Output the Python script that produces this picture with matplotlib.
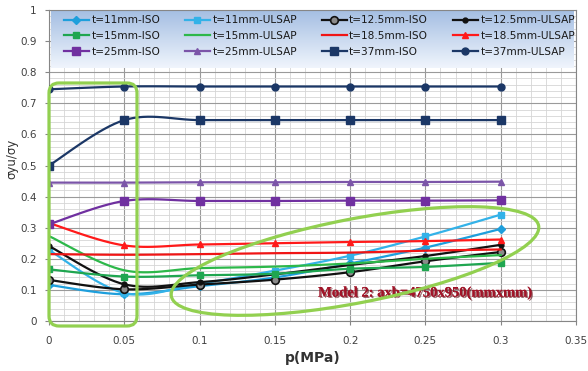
import numpy as np
import matplotlib
matplotlib.use("Agg")
import matplotlib.pyplot as plt
import matplotlib.patheffects as pe
from matplotlib.patches import Ellipse, FancyBboxPatch

# pressure steps (MPa)
p = [0, 0.05, 0.1, 0.15, 0.2, 0.25, 0.3]

# ultimate strength ratio sigma_yu / sigma_y per plate thickness
t11_iso = [0.116, 0.086, 0.112, 0.140, 0.185, 0.236, 0.296]
t11_ulsap = [0.228, 0.090, 0.120, 0.162, 0.210, 0.272, 0.342]
t125_iso = [0.132, 0.102, 0.117, 0.133, 0.157, 0.192, 0.222]
t125_ulsap = [0.241, 0.118, 0.125, 0.150, 0.180, 0.209, 0.245]
t15_iso = [0.166, 0.143, 0.147, 0.152, 0.168, 0.174, 0.187]
t15_ulsap = [0.273, 0.163, 0.170, 0.175, 0.185, 0.200, 0.212]
t185_iso = [0.215, 0.213, 0.215, 0.218, 0.220, 0.226, 0.230]
t185_ulsap = [0.315, 0.243, 0.246, 0.250, 0.254, 0.257, 0.262]
t25_iso = [0.311, 0.386, 0.386, 0.386, 0.387, 0.387, 0.388]
t25_ulsap = [0.445, 0.445, 0.446, 0.446, 0.447, 0.447, 0.448]
t37_iso = [0.500, 0.646, 0.646, 0.646, 0.646, 0.646, 0.646]
t37_ulsap = [0.745, 0.754, 0.754, 0.754, 0.754, 0.754, 0.754]

x_ticks = [0, 0.05, 0.1, 0.15, 0.2, 0.25, 0.3, 0.35]
y_ticks = [0, 0.1, 0.2, 0.3, 0.4, 0.5, 0.6, 0.7, 0.8, 0.9, 1]

series = [
    ("t=11mm-ISO", t11_iso, "#1E9FDC", "D", 4.5),
    ("t=11mm-ULSAP", t11_ulsap, "#33B2E8", "s", 5),
    ("t=12.5mm-ISO", t125_iso, "#111111", "o", 5.5),
    ("t=12.5mm-ULSAP", t125_ulsap, "#111111", "o", 3.5),
    ("t=15mm-ISO", t15_iso, "#1FA650", "s", 5),
    ("t=15mm-ULSAP", t15_ulsap, "#2DB84A", None, 0),
    ("t=18.5mm-ISO", t185_iso, "#F01515", None, 0),
    ("t=18.5mm-ULSAP", t185_ulsap, "#FF1A1A", "^", 5),
    ("t=25mm-ISO", t25_iso, "#7030A0", "s", 6),
    ("t=25mm-ULSAP", t25_ulsap, "#7B55A8", "^", 5),
    ("t=37mm-ISO", t37_iso, "#1B3766", "s", 6),
    ("t=37mm-ULSAP", t37_ulsap, "#1B3766", "o", 5),
]


def smooth(x, y, n=16):
    # bezier smoothing through every point, control points from neighbours
    x = np.asarray(x, float)
    y = np.asarray(y, float)
    pts = np.column_stack([x, y])
    ext = np.vstack([pts[0], pts, pts[-1]])
    t = np.linspace(0, 1, n, endpoint=False)[:, None]
    out = []
    for i in range(len(pts) - 1):
        p0, p1, p2, p3 = ext[i], ext[i + 1], ext[i + 2], ext[i + 3]
        b1 = p1 + (p2 - p0) / 6
        b2 = p2 - (p3 - p1) / 6
        seg = ((1 - t) ** 3) * p1 + 3 * ((1 - t) ** 2) * t * b1 \
            + 3 * (1 - t) * t ** 2 * b2 + t ** 3 * p2
        out.append(seg)
    out.append(pts[-1:])
    out = np.vstack(out)
    marks = [i * n for i in range(len(pts))]
    return out[:, 0], out[:, 1], marks


fig = plt.figure(figsize=(5.88, 3.71), dpi=100)
ax = fig.add_axes([49 / 588, 50 / 371, 527 / 588, 311 / 371])

handles = []
for label, vals, color, marker, ms in series:
    sx, sy, marks = smooth(p, vals)
    kw = {}
    if label == "t=12.5mm-ISO":
        kw = dict(markerfacecolor="#8A8A8A", markeredgecolor="#111111", markeredgewidth=1.2)
    line, = ax.plot(sx, sy, color=color, lw=1.6, marker=marker, markersize=ms,
                    markevery=marks, label=label, zorder=3, **kw)
    handles.append(line)

ax.set_xlim(0, 0.35)
ax.set_ylim(0, 1)
ax.set_xticks(x_ticks)
ax.set_xticklabels([f"{v:g}" for v in x_ticks])
ax.set_yticks(y_ticks)
ax.set_yticklabels([f"{v:g}" for v in y_ticks])
ax.set_xticks(np.arange(0, 0.351, 0.01), minor=True)
ax.set_yticks(np.arange(0, 1.001, 0.02), minor=True)
ax.set_axisbelow(True)
ax.grid(which="major", color="#9A9A9A", lw=0.8)
ax.grid(which="minor", color="#D6D6D6", lw=0.6)
ax.tick_params(which="minor", length=0)
ax.tick_params(which="major", length=3, color="#868686", labelsize=7.5,
               labelcolor="#404040")
ax.tick_params(axis="x", pad=8)
ax.tick_params(axis="y", pad=6)
for s in ax.spines.values():
    s.set_color("#868686")
    s.set_linewidth(0.8)

ax.set_xlabel("p(MPa)", fontsize=10, fontweight="bold", color="#333333")
ax.xaxis.set_label_coords(0.5, -0.095)
ax.set_ylabel("σyu/σy", fontsize=8.5, color="#333333")
ax.yaxis.set_label_coords(-0.058, 0.52)

# gradient panel behind the legend
grad = np.linspace(0, 1, 64)[:, None]
top = np.array([0.65, 0.75, 0.89])
bottom = np.array([0.94, 0.96, 0.99])
img = top[None, None, :] * (1 - grad[:, :, None]) + bottom[None, None, :] * grad[:, :, None]
ax.imshow(img, extent=(0.004, 0.996, 0.815, 0.998), transform=ax.transAxes,
          aspect="auto", zorder=1)

# legend reads row by row, matplotlib fills column by column
order = [0, 4, 8, 1, 5, 9, 2, 6, 10, 3, 7, 11]
leg = ax.legend([handles[i] for i in order], [handles[i].get_label() for i in order],
                ncol=4, mode="expand", loc="upper left",
                bbox_to_anchor=(0.018, 0.815, 0.99, 0.185), frameon=False,
                fontsize=7.6, handlelength=2.4, handletextpad=0.2,
                labelspacing=0.55, borderaxespad=0.2, borderpad=0.3)
for txt in leg.get_texts():
    txt.set_color("#1A1A1A")

ax.text(0.1787, 0.09, "Model 2: axb=4750x950(mmxmm)", fontsize=10.5,
        family="Liberation Serif", fontweight="bold", color="#A01428",
        ha="left", va="center", zorder=4,
        path_effects=[pe.withSimplePatchShadow(offset=(1, -1), shadow_rgbFace="#5A0A10", alpha=0.6),
                      pe.Normal()])

# highlight outlines
box = FancyBboxPatch((0.49, 0.45), 0.88, 2.43, boxstyle="round,pad=0,rounding_size=0.1",
                     transform=fig.dpi_scale_trans, fill=False, ec="#92D050", lw=2.3,
                     zorder=5, clip_on=False)
fig.add_artist(box)
oval = Ellipse((3.55, 1.10), 3.74, 0.84, angle=10.9, transform=fig.dpi_scale_trans,
               fill=False, ec="#92D050", lw=2.3, zorder=5, clip_on=False)
fig.add_artist(oval)

fig.savefig("out.png", dpi=100)
